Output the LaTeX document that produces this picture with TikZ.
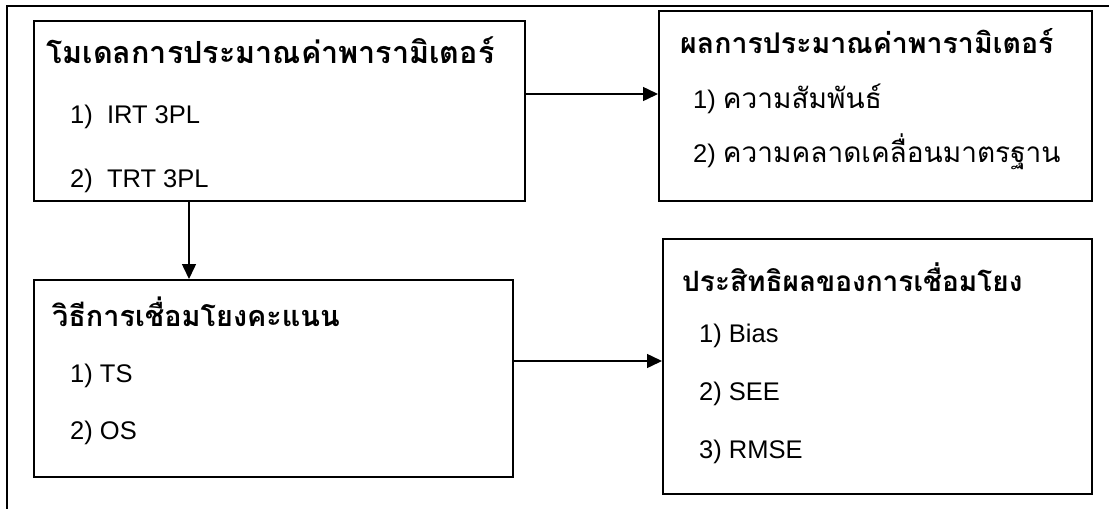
\documentclass[tikz,border=0pt]{standalone}
\usepackage{fontspec}
\usetikzlibrary{arrows.meta}
\newfontfamily\thaifont[Script=Thai]{Loma}
\newfontfamily\latfont{Liberation Sans}
\newcommand\thaiitem[1]{{\thaifont\fontsize{28}{32}\selectfont #1}}
\newcommand\headsz[1]{\fontsize{#1}{34}\selectfont}
\tikzset{
  x=1pt, y=-1pt,
  box/.style={draw, line width=1.5pt, rectangle, anchor=north west, inner sep=0pt},
  head/.style={anchor=base west, inner sep=0pt, font=\thaifont\bfseries\fontsize{30}{34}\selectfont},
  item/.style={anchor=base west, inner sep=0pt, font=\latfont\fontsize{25.5}{30}\selectfont},
  arr/.style={line width=1.5pt, -{Triangle[length=15pt,width=14pt]}},
}
\begin{document}
\begin{tikzpicture}
\useasboundingbox (0,0) rectangle (1109,509);
\draw[line width=2.2pt] (1109,6) -- (7,6) -- (7,509);
% boxes
\node[box, minimum width=491pt, minimum height=180pt] (b1) at (33,20) {};
\node[box, minimum width=433pt, minimum height=190pt] (b2) at (658,10) {};
\node[box, minimum width=479pt, minimum height=197pt] (b3) at (33,279) {};
\node[box, minimum width=429pt, minimum height=255pt] (b4) at (662,238) {};
% texts
\node[head] (h1) at (46,63) {\headsz{30.5}โมเดลการประมาณค่าพารามิเตอร์};
\node[item] (i11) at (70,123) {1)\ \ IRT 3PL};
\node[item] (i12) at (70,187) {2)\ \ TRT 3PL};
\node[head] (h2) at (680,53) {\headsz{28.5}ผลการประมาณค่าพารามิเตอร์};
\node[item] (i21) at (693,108) {1) \thaiitem{ความสัมพันธ์}};
\node[item] (i22) at (693,162) {2) \thaiitem{ความคลาดเคลื่อนมาตรฐาน}};
\node[head] (h3) at (52,326) {\headsz{28.8}วิธีการเชื่อมโยงคะแนน};
\node[item] (i31) at (70,382) {1) TS};
\node[item] (i32) at (70,439) {2) OS};
\node[head] (h4) at (682,291) {\headsz{28}ประสิทธิผลของการเชื่อมโยง};
\node[item] (i41) at (699,342) {1) Bias};
\node[item] (i42) at (699,400) {2) SEE};
\node[item] (i43) at (699,458) {3) RMSE};
% connectors
\coordinate (a1) at (524,94);
\coordinate (a2) at (189,200);
\coordinate (a3) at (512,361);
\draw[arr] (a1) -- (a1 -| b2.west);
\draw[arr] (a2) -- (a2 |- b3.north);
\draw[arr] (a3) -- (a3 -| b4.west);
\end{tikzpicture}
\end{document}
